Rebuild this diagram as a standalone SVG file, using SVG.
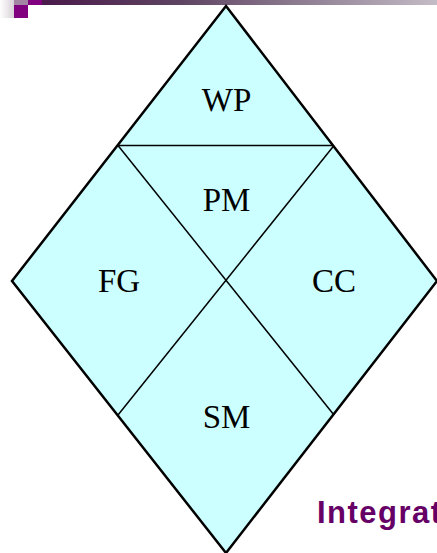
<svg xmlns="http://www.w3.org/2000/svg" width="437" height="553" viewBox="0 0 437 553">
<defs>
<linearGradient id="bar" x1="0" y1="0" x2="1" y2="0">
<stop offset="0" stop-color="#4a1a4a"/>
<stop offset="0.35" stop-color="#5e4462"/>
<stop offset="1" stop-color="#c4bcc6"/>
</linearGradient>
<linearGradient id="fade" x1="0" y1="0" x2="1" y2="0">
<stop offset="0" stop-color="#ffffff"/>
<stop offset="1" stop-color="#d8d0d8"/>
</linearGradient>
<style>
.lbl{font-family:"Liberation Serif","Times New Roman",serif;font-size:33px;fill:#000;text-anchor:middle}
.line{stroke:#000;stroke-width:1.5;fill:none}
</style>
</defs>
<rect width="437" height="553" fill="#fff"/>
<g id="header">
<rect x="0" y="0" width="14" height="18" fill="url(#fade)"/>
<rect x="14" y="0" width="14" height="5" fill="#a385a3"/>
<rect x="28" y="0" width="14" height="5" fill="#800080"/>
<rect x="14" y="5" width="14" height="13" fill="#800080"/>
<rect x="42" y="0" width="395" height="5" fill="url(#bar)"/>
</g>
<g id="diamond">
<polygon points="226,6 437,281 226,553 12,281" fill="#ccffff" stroke="#000" stroke-width="2.5" stroke-linejoin="miter"/>
</g>
<g id="connectors">
<line class="line" x1="118" y1="145.5" x2="334" y2="145.5"/>
<line class="line" x1="118" y1="145.5" x2="334" y2="415"/>
<line class="line" x1="334" y1="145.5" x2="118" y2="415"/>
</g>
<g id="WP"><text class="lbl" x="226.5" y="111">WP</text></g>
<g id="PM"><text class="lbl" x="226.5" y="211">PM</text></g>
<g id="FG"><text class="lbl" x="119" y="292">FG</text></g>
<g id="CC"><text class="lbl" x="334" y="292">CC</text></g>
<g id="SM"><text class="lbl" x="226.5" y="428">SM</text></g>
<text x="317" y="523" font-family="'Liberation Sans',Arial,sans-serif" font-weight="bold" font-size="31" letter-spacing="1.5" fill="#660066">Integrat</text>
</svg>
